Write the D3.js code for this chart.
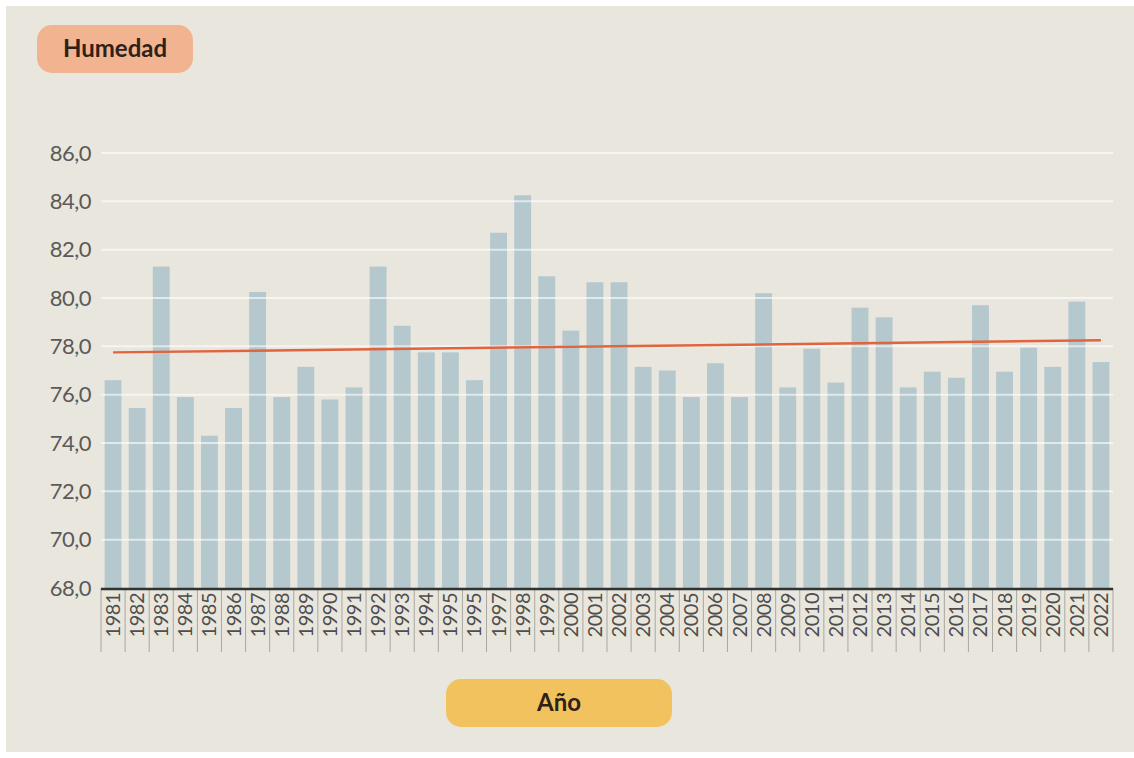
<!DOCTYPE html>
<html>
<head>
<meta charset="utf-8">
<script src="https://cdn.jsdelivr.net/npm/d3@7"></script>
<style>
  body { margin: 0; background: #ffffff; }
  svg { display: block; font-family: Lato, "Open Sans", sans-serif; }
</style>
</head>
<body>
<svg id="viz"></svg>
<script>
// tick labels as printed in the picture (1996 is printed as "1995")
let year_labels = ['1981', '1982', '1983', '1984', '1985', '1986', '1987', '1988', '1989', '1990',
    '1991', '1992', '1993', '1994', '1995', '1995', '1997', '1998', '1999', '2000',
    '2001', '2002', '2003', '2004', '2005', '2006', '2007', '2008', '2009', '2010',
    '2011', '2012', '2013', '2014', '2015', '2016', '2017', '2018', '2019', '2020',
    '2021', '2022'];
let humidity = [76.6, 75.45, 81.3, 75.9, 74.3, 75.45, 80.25, 75.9, 77.15, 75.8,
    76.3, 81.3, 78.85, 77.75, 77.75, 76.6, 82.7, 84.25, 80.9, 78.65,
    80.65, 80.65, 77.15, 77.0, 75.9, 77.3, 75.9, 80.2, 76.3, 77.9,
    76.5, 79.6, 79.2, 76.3, 76.95, 76.7, 79.7, 76.95, 77.95, 77.15,
    79.85, 77.35];
// trend line, value at first and last year
let trend = [77.75, 78.25];
let y_ticks = [68, 70, 72, 74, 76, 78, 80, 82, 84, 86];

const width = 1134, height = 758;

const svg = d3.select('#viz')
    .attr('width', width)
    .attr('height', height);

// panel
svg.append('rect')
    .attr('x', 6).attr('y', 6)
    .attr('width', width - 6).attr('height', 746)
    .attr('fill', '#e9e6dd');

const x = d3.scaleBand()
    .domain(d3.range(humidity.length))
    .range([101, 1113])
    .paddingInner(0.3)
    .paddingOuter(0.15);

const y = d3.scaleLinear()
    .domain([68, 86])
    .range([588, 153]);

// bars
svg.append('g')
    .selectAll('rect')
    .data(humidity)
    .join('rect')
    .attr('x', (d, i) => x(i))
    .attr('y', d => y(d))
    .attr('width', x.bandwidth())
    .attr('height', d => y(68) - y(d))
    .attr('fill', '#b4c8ce');

// gridlines on top of bars
svg.append('g')
    .selectAll('line')
    .data(y_ticks.filter(t => t > 68))
    .join('line')
    .attr('x1', 101).attr('x2', 1113)
    .attr('y1', d => y(d)).attr('y2', d => y(d))
    .attr('stroke', '#ffffff')
    .attr('stroke-opacity', 0.6)
    .attr('stroke-width', 2);

// y labels
svg.append('g')
    .selectAll('text')
    .data(y_ticks)
    .join('text')
    .attr('x', 91)
    .attr('y', d => y(d))
    .attr('dy', '0.35em')
    .attr('text-anchor', 'end')
    .attr('font-size', 22)
    .attr('letter-spacing', -0.5)
    .attr('fill', '#5a5a5a')
    .text(d => d3.format('.1f')(d).replace('.', ','));

// x axis: tick lines at band edges
const step = x.step();
svg.append('g')
    .selectAll('line')
    .data(d3.range(humidity.length + 1))
    .join('line')
    .attr('x1', i => x(0) - x.paddingInner() * step / 2 + i * step)
    .attr('x2', i => x(0) - x.paddingInner() * step / 2 + i * step)
    .attr('y1', 588).attr('y2', 652)
    .attr('stroke', '#aaa7a0')
    .attr('stroke-width', 1);

svg.append('line')
    .attr('x1', 101).attr('x2', 1113)
    .attr('y1', 589).attr('y2', 589)
    .attr('stroke', '#2f3333')
    .attr('stroke-width', 2.5);

svg.append('g')
    .selectAll('text')
    .data(year_labels)
    .join('text')
    .attr('transform', (d, i) => 'translate(' + (x(i) + x.bandwidth() / 2) + ',593) rotate(-90)')
    .attr('dy', '0.35em')
    .attr('text-anchor', 'end')
    .attr('font-size', 20)
    .attr('letter-spacing', -0.5)
    .attr('fill', '#4e4e4e')
    .text(d => d);

// trend line
svg.append('line')
    .attr('x1', x(0) + x.bandwidth() / 2)
    .attr('x2', x(humidity.length - 1) + x.bandwidth() / 2)
    .attr('y1', y(trend[0]))
    .attr('y2', y(trend[1]))
    .attr('stroke', '#e0653f')
    .attr('stroke-width', 2.5);

// badges
function badge(cx, cy, w, h, fill, label) {
    svg.append('rect')
        .attr('x', cx - w / 2).attr('y', cy - h / 2)
        .attr('width', w).attr('height', h)
        .attr('rx', 15)
        .attr('fill', fill);
    svg.append('text')
        .attr('x', cx).attr('y', cy)
        .attr('dy', '0.35em')
        .attr('text-anchor', 'middle')
        .attr('font-size', 24)
        .attr('font-weight', 'bold')
        .attr('fill', '#2e2118')
        .text(label);
}

badge(115, 49, 156, 48, '#f2b490', 'Humedad');
badge(559, 703, 226, 48, '#f2c25f', 'Año');
</script>
</body>
</html>
